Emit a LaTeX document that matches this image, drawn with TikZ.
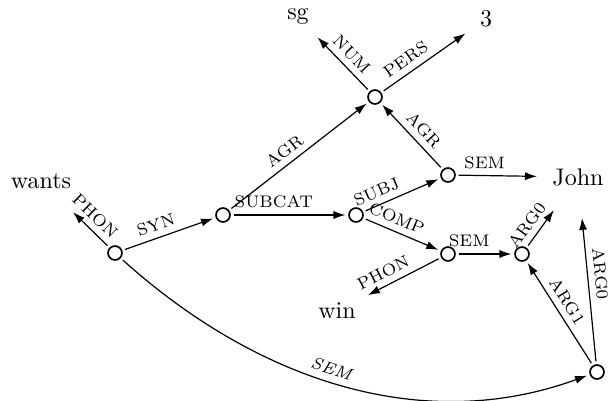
\documentclass[tikz,border=0pt]{standalone}
\usetikzlibrary{arrows.meta}
\begin{document}
\begin{tikzpicture}[x=0.4167pt,y=0.4167pt,
  fs/.style={circle,draw,line width=0.7pt,minimum size=5.8pt,inner sep=0pt,outer sep=1.5pt},
  word/.style={circle,inner sep=3pt,outer sep=2pt},
  lab/.style={font=\scriptsize,sloped,above,inner sep=2.6pt},
  arr/.style={-{Latex[length=5pt,width=3.4pt]},line width=0.5pt}]
\useasboundingbox (0,0) rectangle (610,-400);
% feature nodes
\node[fs] (n1) at (115,-253) {};
\node[fs] (n2) at (223,-215) {};
\node[fs] (n3) at (356,-215) {};
\node[fs] (n4) at (375,-97) {};
\node[fs] (n5) at (448,-175) {};
\node[fs] (n6) at (448,-254) {};
\node[fs] (n7) at (522,-254) {};
\node[fs] (n8) at (597,-372) {};
% atomic values
\node[word] (wants) at (41,-181) {wants};
\node[word] (sg) at (298,-17) {sg};
\node[word] (three) at (486,-19) {3};
\node[word] (john) at (578,-177) {John};
\node[word] (win) at (337,-311) {win};
% edges
\draw[arr] (n1) -- node[lab,pos=0.62]{PHON} (wants);
\draw[arr] (n1) -- node[lab,pos=0.4]{SYN} (n2);
\draw[arr] (n2) -- node[lab,pos=0.36]{SUBCAT} (n3);
\draw[arr] (n2) -- node[lab,pos=0.45]{AGR} (n4);
\draw[arr] (n3) -- node[lab,pos=0.22]{SUBJ} (n5);
\draw[arr] (n3) -- node[lab,pos=0.36]{COMP} (n6);
\draw[arr] (n5) -- node[lab,pos=0.45]{AGR} (n4);
\draw[arr] (n4) -- node[lab]{NUM} (sg);
\draw[arr] (n4) -- node[lab,pos=0.36]{PERS} (three);
\draw[arr] (n5) -- node[lab,pos=0.33]{SEM} (john);
\draw[arr] (n6) -- node[lab,pos=0.2]{SEM} (n7);
\draw[arr] (n6) -- node[lab,pos=0.7]{PHON} (win);
\draw[arr] (n7) -- node[lab,pos=0.35]{ARG0} (john);
\draw[arr] (n8) -- node[lab,pos=0.55]{ARG1} (n7);
\draw[arr] (n8) -- node[lab,pos=0.6]{ARG0} (john);
\draw[arr] (n1) to[out=-42,in=200,looseness=0.95]
  node[lab,pos=0.47,font=\scriptsize\itshape]{SEM} (n8);
\end{tikzpicture}
\end{document}
